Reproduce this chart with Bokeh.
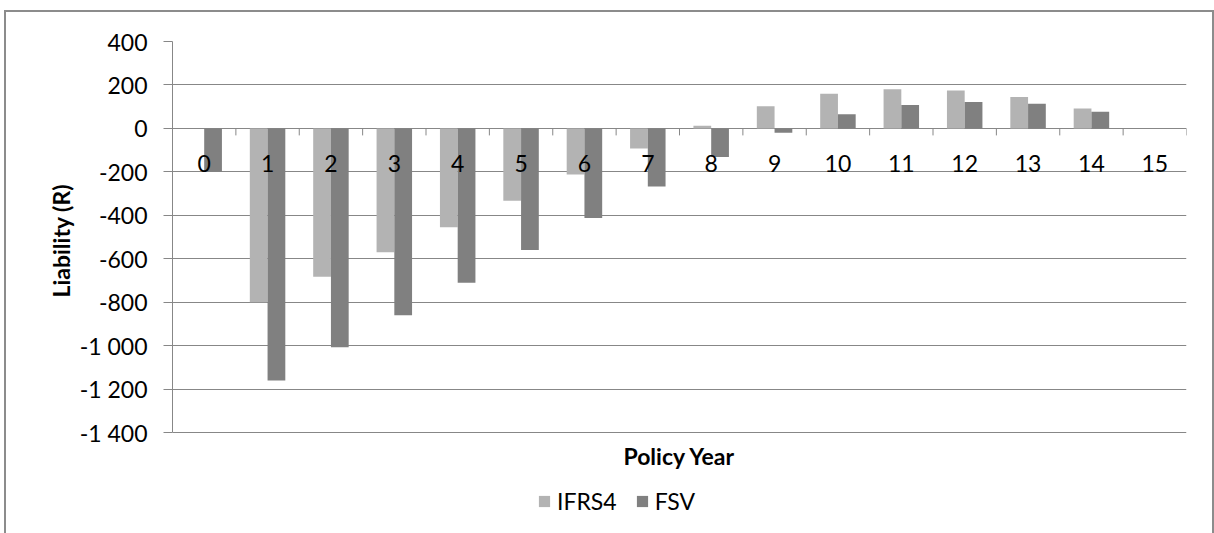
from bokeh.plotting import figure
from bokeh.models import Range1d, FixedTicker, Legend, LegendItem, ColumnDataSource, Title
from bokeh.transform import dodge
from bokeh.core.properties import value
from bokeh.embed import file_html
from bokeh.resources import INLINE

# ---- data ----
years = list(range(16))
year_labels = [str(y) for y in years]
ifrs4 = [0, -800, -683, -570, -455, -333, -212, -93, 12, 102, 160, 180, 174, 145, 92, 0]
fsv = [-200, -1160, -1007, -860, -711, -560, -412, -268, -132, -20, 65, 108, 122, 114, 77, 0]
series_names = ["IFRS4", "FSV"]
series_colors = ["#b3b3b3", "#808080"]
y_ticks = [-1400, -1200, -1000, -800, -600, -400, -200, 0, 200, 400]
y_tick_labels = ["-1 400", "-1 200", "-1 000", "-800", "-600", "-400", "-200", "0", "200", "400"]
x_title = "Policy Year"
y_title = "Liability (R)"

FONT = "Lato"
GRAY = "#878787"
FS = "23px"

src = ColumnDataSource(dict(year=years, label=year_labels, ifrs4=ifrs4, fsv=fsv,
                            zero=[0] * len(years)))
bounds = [y - 0.5 for y in years] + [years[-1] + 0.5]
bsrc = ColumnDataSource(dict(b=bounds, zero=[0] * len(bounds)))
tsrc = ColumnDataSource(dict(x=[(bounds[0] + bounds[-1]) / 2], y=[y_ticks[0]], t=[x_title]))

# the frame reaches down to the bottom of the page so that the legend below the
# axis is not clipped; the value range below -1400 carries no ticks or grid lines
p = figure(width=1210, height=523, output_backend="svg", toolbar_location=None,
           x_range=Range1d(bounds[0], bounds[-1]),
           y_range=Range1d(y_ticks[0] - 451, y_ticks[-1]),
           min_border_left=166, min_border_right=30, min_border_top=29, min_border_bottom=5)
p.styles = {"margin-left": "4px", "margin-top": "10px",
            "border-left": "2px solid #8c8c8c", "border-top": "2px solid #8c8c8c",
            "border-right": "2px solid #8c8c8c"}
p.outline_line_color = None
p.background_fill_color = "white"
p.border_fill_color = "white"

bw = 0.28
r1 = p.vbar(x=dodge("year", -bw / 2), top="ifrs4", width=bw, source=src,
            fill_color=series_colors[0], line_color=None)
r2 = p.vbar(x=dodge("year", bw / 2), top="fsv", width=bw, source=src,
            fill_color=series_colors[1], line_color=None)

# y axis
p.yaxis.bounds = (y_ticks[0], y_ticks[-1])
p.yaxis.ticker = FixedTicker(ticks=y_ticks)
p.yaxis.major_label_overrides = dict(zip(y_ticks, y_tick_labels))
p.yaxis.major_tick_out = 9
p.yaxis.major_tick_in = 0
p.yaxis.minor_tick_line_color = None
p.yaxis.major_tick_line_color = GRAY
p.yaxis.axis_line_color = GRAY
p.yaxis.major_label_standoff = 16
p.yaxis.major_label_text_font = FONT
p.yaxis.major_label_text_font_size = FS
p.yaxis.major_label_text_color = "black"

# y title, placed next to the y axis, over the span -1400..400
p.add_layout(Title(text=y_title, align="left", offset=233, text_font=FONT,
                   text_font_size=FS, text_font_style="bold", text_color="black",
                   standoff=4), "left")

p.ygrid.ticker = FixedTicker(ticks=y_ticks)
p.ygrid.grid_line_color = GRAY
p.ygrid.grid_line_width = 1
p.xgrid.grid_line_color = None
p.xaxis.visible = False

# category axis crossing at zero: ticks at category boundaries, labels below the zero line
p.ray(x="b", y="zero", length=7, length_units="screen", angle=-90, angle_units="deg",
      line_color=GRAY, line_width=1, source=bsrc)
p.text(x="year", y="zero", text="label", source=src, y_offset=35,
       text_align="center", text_baseline="middle", text_font=value(FONT),
       text_font_size=FS, text_color="black")

# x title under the plot area
p.text(x="x", y="y", text="t", source=tsrc, y_offset=23,
       text_align="center", text_baseline="middle", text_font=value(FONT),
       text_font_size=FS, text_font_style="bold", text_color="black")

legend = Legend(items=[LegendItem(label=series_names[0], renderers=[r1]),
                       LegendItem(label=series_names[1], renderers=[r2])],
                orientation="horizontal", location=(365, 15),
                label_text_font=FONT, label_text_font_size=FS, label_text_color="black",
                glyph_width=14, glyph_height=14, spacing=18, label_standoff=6,
                border_line_color=None, background_fill_alpha=0, padding=4, margin=0)
p.add_layout(legend, "center")

open("out.html", "w").write(file_html(p, INLINE))
